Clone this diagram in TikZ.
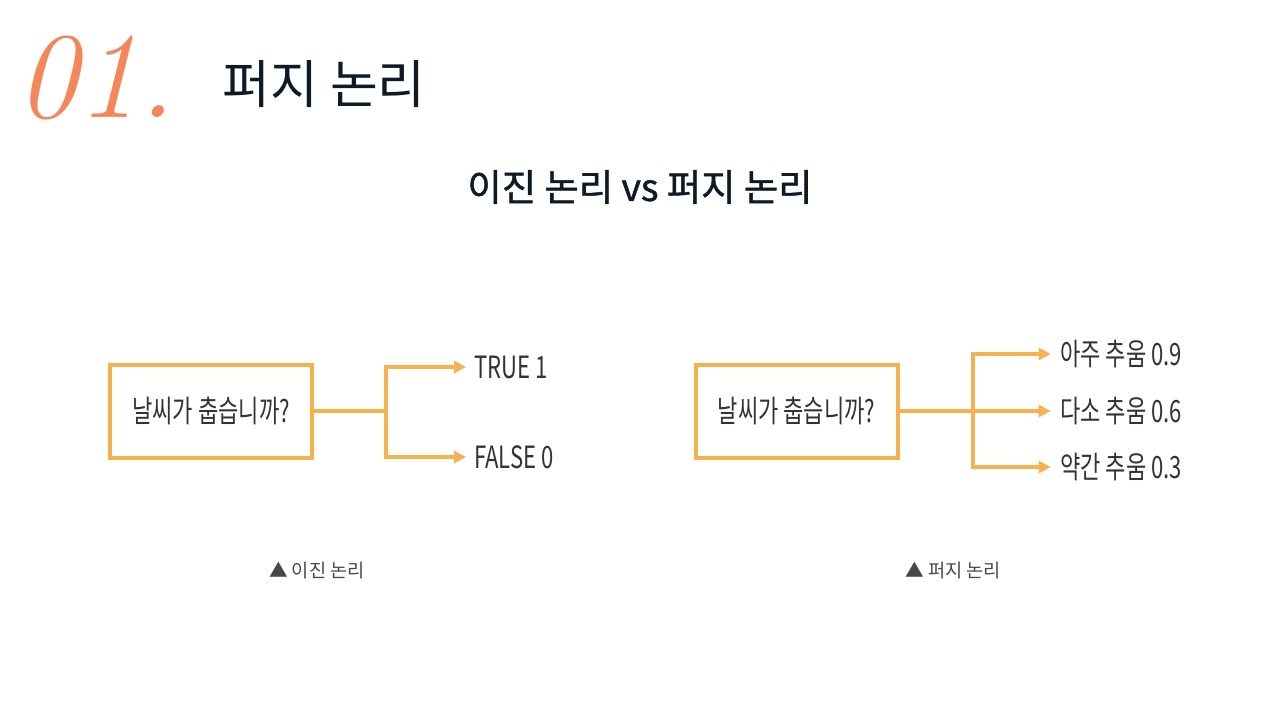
\documentclass[tikz,border=0pt]{standalone}
\usepackage{fontspec}
\setmainfont{Noto Sans CJK KR}
\newfontfamily\condfont[FakeStretch=0.72]{Noto Sans CJK KR}
\newfontfamily\subfont[FakeBold=1.2]{Noto Sans CJK KR}
\newfontfamily\numfont{Latin Modern Roman}
\usepackage{tikz}
\usetikzlibrary{arrows.meta}
\usetikzlibrary{positioning}

\definecolor{boxorange}{HTML}{F6B24E}
\definecolor{numorange}{HTML}{F4875A}
\definecolor{titlenavy}{HTML}{0E1A26}
\definecolor{labelgray}{HTML}{333333}

\begin{document}
\begin{tikzpicture}[
    x=0.75pt, y=-0.75pt,
    question/.style={draw=boxorange, line width=3pt, rectangle, minimum width=151.5pt, minimum height=69.75pt,
        font=\condfont\fontsize{23}{26}\selectfont, text=labelgray},
    answer/.style={anchor=west, inner sep=0pt, font=\condfont\fontsize{23}{26}\selectfont, text=labelgray},
    caption/.style={font=\fontsize{14}{16}\selectfont, text=labelgray!90},
    branch/.style={draw=boxorange, line width=3pt, -{Triangle[length=9pt, width=9pt]}}
]
    \useasboundingbox (0,0) rectangle (1280,720);

    % Header
    \node (num) [text=numorange] at (96,78) {\numfont\itshape\fontsize{92}{92}\selectfont 01.};
    \node (title) [anchor=west, text=titlenavy] at (218,84) {\fontsize{39}{44}\selectfont 퍼지 논리};
    \node (subtitle) [text=titlenavy] at (640,187) {\subfont\fontsize{28}{33}\selectfont 이진 논리 vs 퍼지 논리};

    % Binary logic
    \node (q1) [question] at (211,411) {날씨가 춥습니까?};
    \coordinate (j1) at (386,411);
    \node (true) [answer] at (474,367) {TRUE 1};
    \node (false) [answer] at (474,457) {FALSE 0};
    \node (cap1) [caption] at (317,571) {▲ 이진 논리};

    % Fuzzy logic
    \node (q2) [question] at (796.5,411) {날씨가 춥습니까?};
    \coordinate (j2) at (973,411);
    \node (high) [answer] at (1060,354) {아주 추움 0.9};
    \node (mid) [answer] at (1060,411) {다소 추움 0.6};
    \node (low) [answer] at (1060,467) {약간 추움 0.3};
    \node (cap2) [caption] at (953,571) {▲ 퍼지 논리};

    % Connectors
    \draw[branch] (q1.east) -- (j1) |- ([xshift=-6pt]true.west);
    \draw[branch] (q1.east) -- (j1) |- ([xshift=-6pt]false.west);
    \draw[branch] (q2.east) -- (j2) |- ([xshift=-7pt]high.west);
    \draw[branch] (q2.east) -- (j2) |- ([xshift=-7pt]mid.west);
    \draw[branch] (q2.east) -- (j2) |- ([xshift=-7pt]low.west);

\end{tikzpicture}
\end{document}
